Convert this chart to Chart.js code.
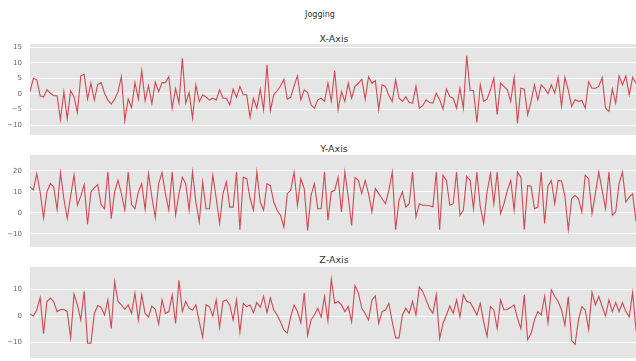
<!DOCTYPE html>
<html lang="en">
<head>
    <meta charset="utf-8">
    <title>Jogging</title>
    <script src="https://cdn.jsdelivr.net/npm/chart.js"></script>
    <style>
        body { margin: 0; background: #fff; font-family: "DejaVu Sans", sans-serif; }
        #fig { position: relative; width: 636px; height: 361px; overflow: hidden; }
        .panel { position: absolute; left: 0; width: 636px; }
        .ttl { position: absolute; transform: translate(-50%, -50%); white-space: nowrap; color: #333; }
    </style>
</head>
<body>
<div id="fig">
    <div class="ttl" style="left:320px; top:14px; font-size:8px;">Jogging</div>
    <div class="ttl" style="left:334px; top:38px; font-size:9.5px;">X-Axis</div>
    <div class="ttl" style="left:334px; top:148px; font-size:9.5px;">Y-Axis</div>
    <div class="ttl" style="left:334px; top:259px; font-size:9.5px;">Z-Axis</div>
    <div class="panel" style="top:44px;"><canvas id="chartX" width="636" height="91"></canvas></div>
    <div class="panel" style="top:155px;"><canvas id="chartY" width="636" height="92"></canvas></div>
    <div class="panel" style="top:267px;"><canvas id="chartZ" width="636" height="91"></canvas></div>
</div>

<script>
    // acceleration readings, 180 samples
    let accX = [0.7, 5, 4.5, -0.6, -1, 1.3, 0.2, -0.6, -0.6, -8.3, 0.7, -8, 1, -1, -6, 5.8, 6.3, -1.7, 3.4, -2,
        3, 3.6, 0.2, -2, -3.3, -1.7, 0.7, 5.5, -8.6, -1.7, -4.4, 3.6, -1.7, 7.5, -2.2, 2.6, -3.2, 3.8, 0.7, 3.6,
        3.6, 5.5, -4.6, 1.7, -3, 11.4, -3, 0.4, -7.8, 2.9, -2.5, -0.3, -1, -2, -1.4, -2, 1.3, -1.4, -1.4, -3.5,
        1.5, -1.1, 2.4, -0.3, -0.3, -7.5, -1.4, -4.6, 1.5, -5.1, 9.3, -5.4, -0.3, 1, 2.5, 4.7, -1.7, -1.1, 2.5, 5.8,
        -1.9, 1.3, 0.4, -3.5, -4.6, -1.9, -1.4, -2.4, 3.4, -2.4, 7.5, -5.1, 0.7, -2.4, 3.4, -1.4, 2.4, 3.4, 4.7, -1.7,
        5.5, 3.4, 4.3, -5.1, 2.9, 2.4, -0.6, -2.4, 4.5, -1.4, -2.4, -0.9, -2.8, -3, 2.5, -4.6, -3.8, -1.9, -2.8, -3,
        0.2, -1.9, -4.9, 1.5, -0.9, -1.4, -4.6, 1.8, -4.6, 12.2, 1.1, 1.1, -9.2, 2.9, -2.4, -1.7, 1.3, 5, -6.7, 3.4,
        2.4, 1.3, -2.4, 5.3, -9.4, 1.8, 1.5, -6.7, -2.4, 2.9, -1.9, 2.9, 1.8, 0, 2.9, 0.2, 5.3, -4, 5.3, 1.1,
        -4, -1.9, -2.4, -2.1, -4.6, 3.9, 1.8, 1.8, 2.4, 5.3, -4.6, -5.6, 1.5, -3, 5.8, 2.9, 5.8, -0.3, 5.3, 3.4];
    let accY = [12.4, 11, 18.7, 10, -2.4, 10, 14, 12.4, 1.6, 19.2, 6.8, -2.7, 8, 18, 3.7, 8, 13.5, -5.4, 10, 12,
        13.5, 4, 2, 19.5, -2.7, 10, 15.5, 9.2, 1.3, 19.5, 4, 2, 10, 14, 1.6, 18.7, 7.6, -2.2, 14, 19.2,
        9.2, 1.3, 19.5, -1.1, 9.2, 17, 14, 1.3, 19.5, 5.2, -4.3, 14.8, 2, 2, 18, 7, -5, 9.2, 14.8, 2.8,
        2.8, 19.5, -8, 17, 16.3, 7, 1.3, 19.5, 5.2, 1.3, 14, 13, 5.2, 1.3, -1.1, -6.7, 9.2, 10.8, 19.5, 3.7,
        16.3, 11.6, -8.3, 8.4, 14, 2, 2, 19.5, -3.5, 10, 10.8, 17, 0.5, 19.5, 7.6, -5.9, 16.8, 15.5, 9.2, 15.5,
        9.2, 0.5, 11.6, 9.2, 6.8, 4.4, 10.8, 19.5, -8, 6, 10, 2.8, 4.4, 19.5, -2, 4.4, 3.7, 3.7, 3.4, 2.8,
        19.5, -8, 18, 15.5, 3.7, 4.4, 19.5, -1.1, 1.3, 17.5, 15.5, 2, 19.5, 3, -5, 10, 18.7, 4.4, 19.5, -0.3,
        4.4, 10.8, 15.5, 1.3, 19.5, 17, -8, 13, 12.7, 2, 2.8, 19.5, -5, 13, 15.5, 4.4, 15.5, 15.2, 8, -8,
        6.8, 8.4, 6.8, 0.5, 18, 16.3, -0.3, 9.2, 19.5, 10.8, 2, 19.5, -1.1, 0.5, 14, 19.5, 5.2, 7.6, 9.2, -4];
    let accZ = [0.8, 0, 2.3, 7, -6.6, 5.5, 6.8, 5.5, 1.7, 2.5, 2.5, 1.7, -8.2, 8.3, 4.2, -1.5, 9.3, -10.2, -10.2, 1,
        4, 3.3, 0.4, 6.1, -4.7, 13.1, 5.5, 4.2, 2.5, 4.2, 1, 8.7, -1.5, 8, 1, -0.3, 3.8, 2.5, -3, 6.1,
        1, 1.7, 8, -2.8, 13.5, 1.7, 5.5, 2.9, 2.3, 4.2, -2.2, -7.9, 4.2, 3.6, 0, 6.1, -4.3, 5.5, 6.1, 4.2,
        -1.5, 6.1, -6, 4.8, 3.6, 4.2, 1.3, 5.1, 3.3, 7.4, 1.3, 6.8, 2.3, 0.4, -2.2, -5.3, -6.4, -0.3, 4.2, 1.7,
        -2.5, 8.7, -7.3, -1.5, 0.4, 2.9, -0.3, 7.4, -1.8, 14, 4.8, 5.5, 4.2, 1.7, 3.6, -2.2, 11.5, 8.7, 2.9, 1,
        -1.5, 6.1, 7.6, -2.8, 1.7, 2.3, 4.8, -2.2, -8.2, -8.2, 0.4, 2.9, 1, 5.5, 0.4, 11, 9.3, 6.1, 2.9, 1,
        8, -8.5, -2.8, 0.4, 3.8, 1, 6.1, -0.3, 8, 5.5, 5.1, 2.9, 0.4, 4.8, -2.2, -7.6, 3.6, 2.3, -4.7, 6.1,
        2.3, 2.5, 3.3, 4.2, -0.9, -4.7, 8, -8.9, -6.6, -1.5, 1.7, 0.4, 7.4, -2.5, 9.9, 7.4, 5.5, 2.3, -3.4, 7.4,
        -9.2, -10.7, -1.5, 3.6, 2.3, -5.1, 8.9, 4.2, 7.4, 3.6, 0, 6.1, 1.7, 5.1, 1.7, 5.1, 1.7, -0.3, 8.9, -5.3];

    let ticksX = [-10, -5, 0, 5, 10, 15];
    let ticksY = [-10, 0, 10, 20];
    let ticksZ = [-10, 0, 10];

    let amostras = accX.map((_, i) => i);

    // fundo cinza do ggplot
    const fundo = {
        id: 'fundo',
        beforeDraw(chart) {
            let a = chart.chartArea;
            chart.ctx.save();
            chart.ctx.fillStyle = '#e5e5e5';
            chart.ctx.fillRect(a.left, a.top, a.right - a.left, a.bottom - a.top);
            chart.ctx.restore();
        }
    };

    function criarPainel(id, valores, ticks, min, max) {
        new Chart(document.getElementById(id), {
            type: 'line',
            data: {
                labels: amostras,
                datasets: [{
                    data: valores,
                    borderColor: '#d04850',
                    borderWidth: 1.1,
                    pointRadius: 0,
                    tension: 0,
                    fill: false
                }]
            },
            options: {
                responsive: false,
                animation: false,
                layout: { padding: 0, autoPadding: false },
                plugins: { legend: { display: false }, tooltip: { enabled: false } },
                scales: {
                    x: { display: false },
                    y: {
                        min: min,
                        max: max,
                        afterFit(scale) {
                            scale.width = 30;
                            // o padding dos ticks não deve encolher a área vertical
                            scale.paddingTop = 0;
                            scale.paddingBottom = 0;
                        },
                        afterBuildTicks(scale) { scale.ticks = ticks.map(v => ({ value: v })); },
                        border: { display: false },
                        grid: { color: '#ffffff', lineWidth: 1, drawTicks: false },
                        ticks: {
                            padding: 8,
                            color: '#666',
                            font: { family: 'DejaVu Sans', size: 7 },
                            callback: v => String(v).replace('-', '\u2212')
                        }
                    }
                }
            },
            plugins: [fundo]
        });
    }

    criarPainel('chartX', accX, ticksX, -13.2, 16);
    criarPainel('chartY', accY, ticksY, -16.2, 27.6);
    criarPainel('chartZ', accZ, ticksZ, -15.8, 18.5);
</script>
</body>
</html>
